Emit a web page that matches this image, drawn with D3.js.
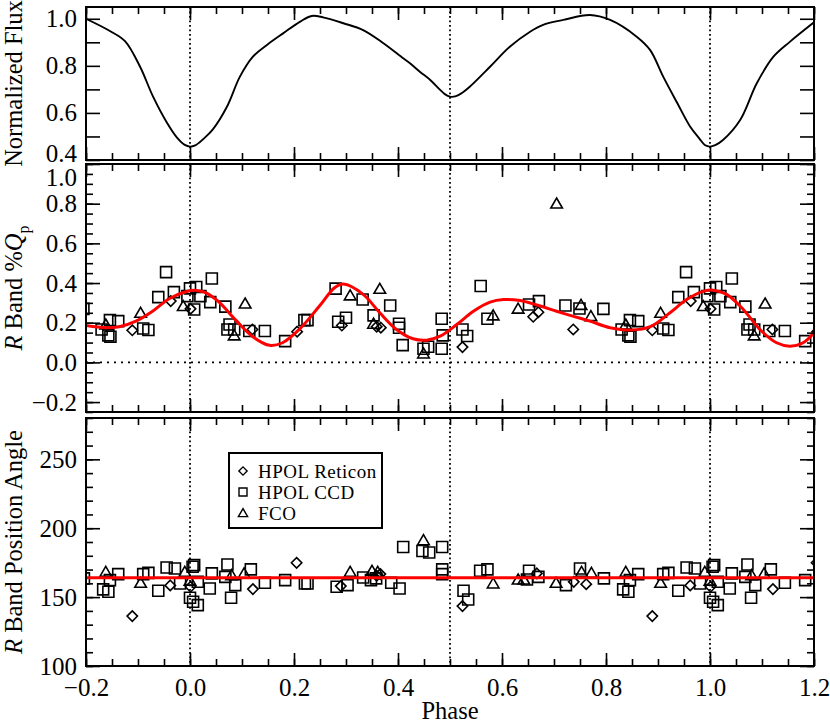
<!DOCTYPE html>
<html>
<head>
<meta charset="utf-8">
<script src="https://cdn.jsdelivr.net/npm/d3@7"></script>
<style>
  body { margin: 0; background: #fff; }
  svg text { font-family: "Liberation Serif", "Times New Roman", serif; fill: #000; }
</style>
</head>
<body>
<svg id="chart"></svg>
<script>
// ---- data ----
const phaseRange = [-0.2, 1.2];

// light curve (top panel)
const fluxPhase = [-0.2, -0.154, -0.125, -0.096, -0.071, -0.044, -0.025, -0.010, 0.0, 0.010, 0.025, 0.044, 0.071, 0.096,
  0.121, 0.148, 0.179, 0.212, 0.234, 0.256, 0.295, 0.333, 0.372, 0.410, 0.423, 0.442, 0.462, 0.481, 0.490, 0.5, 0.510,
  0.525, 0.538, 0.577, 0.615, 0.654, 0.679, 0.718, 0.769, 0.808, 0.859, 0.885, 0.910, 0.937, 0.962, 0.980, 0.990, 1.0,
  1.010, 1.025, 1.058, 1.090, 1.122, 1.154, 1.2];
const fluxValue = [1.0, 0.948, 0.905, 0.796, 0.669, 0.557, 0.495, 0.464, 0.457, 0.462, 0.488, 0.530, 0.626, 0.754,
  0.839, 0.889, 0.938, 0.988, 1.012, 1.006, 0.981, 0.952, 0.896, 0.832, 0.811, 0.775, 0.740, 0.698, 0.680, 0.669, 0.670,
  0.688, 0.711, 0.796, 0.881, 0.945, 0.974, 0.995, 1.016, 0.995, 0.924, 0.867, 0.754, 0.642, 0.541, 0.490, 0.464, 0.457,
  0.463, 0.485, 0.570, 0.726, 0.839, 0.903, 0.985];

// fit to %Qp (middle panel, red)
const qFitPhase = [-0.2, -0.162, -0.136, -0.104, -0.072, -0.040, -0.008, 0.012, 0.031, 0.056, 0.088, 0.121, 0.153, 0.178,
  0.210, 0.249, 0.278, 0.295, 0.333, 0.365, 0.397, 0.429, 0.455, 0.481, 0.513, 0.545, 0.577, 0.603, 0.635, 0.667, 0.705,
  0.731, 0.769, 0.808, 0.849, 0.885, 0.923, 0.955, 0.987, 1.006, 1.032, 1.064, 1.096, 1.128, 1.154, 1.179, 1.2];
const qFitValue = [0.186, 0.175, 0.18, 0.208, 0.258, 0.321, 0.356, 0.363, 0.351, 0.304, 0.213, 0.129, 0.086, 0.099,
  0.166, 0.284, 0.376, 0.395, 0.343, 0.250, 0.166, 0.119, 0.112, 0.132, 0.191, 0.258, 0.304, 0.317, 0.312, 0.289, 0.258,
  0.237, 0.208, 0.175, 0.163, 0.180, 0.250, 0.317, 0.358, 0.364, 0.343, 0.267, 0.166, 0.099, 0.082, 0.099, 0.150];

// %Qp observations, [phase, value], phase in 0..1
const qReticon = [[0.001, 0.270], [0.120, 0.166], [0.206, 0.155], [0.292, 0.186], [0.359, 0.180], [0.367, 0.175],
  [0.524, 0.077], [0.660, 0.230], [0.670, 0.253], [0.737, 0.166], [0.889, 0.162], [0.963, 0.309]];
const qCCD = [[0.000, 0.373], [0.012, 0.380], [0.020, 0.334], [0.008, 0.267], [0.995, 0.334], [0.039, 0.304],
  [0.042, 0.423], [0.068, 0.281], [0.076, 0.191], [0.072, 0.166], [0.085, 0.166], [0.114, 0.158], [0.144, 0.158],
  [0.183, 0.107], [0.220, 0.213], [0.226, 0.213], [0.280, 0.372], [0.285, 0.205], [0.300, 0.225], [0.332, 0.317],
  [0.353, 0.237], [0.385, 0.287], [0.402, 0.195], [0.402, 0.175], [0.409, 0.087], [0.449, 0.069], [0.458, 0.079],
  [0.484, 0.220], [0.486, 0.136], [0.484, 0.069], [0.524, 0.166], [0.533, 0.133], [0.559, 0.385], [0.572, 0.220],
  [0.652, 0.292], [0.671, 0.309], [0.722, 0.287], [0.749, 0.272], [0.795, 0.270], [0.830, 0.166], [0.846, 0.213],
  [0.862, 0.208], [0.843, 0.136], [0.847, 0.129], [0.910, 0.171], [0.920, 0.163], [0.939, 0.329], [0.954, 0.455],
  [0.969, 0.354]];
const qFCO = [[0.987, 0.284], [0.085, 0.136], [0.106, 0.297], [0.308, 0.338], [0.353, 0.195], [0.365, 0.371],
  [0.449, 0.045], [0.583, 0.237], [0.631, 0.271], [0.705, 0.801], [0.752, 0.290], [0.771, 0.233], [0.838, 0.191],
  [0.905, 0.250]];

// position angle observations
const paReticon = [[0.001, 157.5], [0.121, 155.8], [0.205, 174.9], [0.290, 158.0], [0.359, 165.5], [0.366, 166.7],
  [0.524, 143.5], [0.667, 167.2], [0.738, 161.1], [0.762, 159.4], [0.889, 136.2], [0.962, 158.5]];
const paCCD = [[0.008, 173.2], [0.005, 172.0], [0.015, 161.1], [0.000, 149.5], [0.006, 146.6], [0.015, 144.2],
  [0.038, 156.3], [0.042, 167.2], [0.068, 164.7], [0.072, 173.7], [0.079, 149.5], [0.087, 158.7], [0.117, 170.1],
  [0.144, 160.4], [0.183, 162.3], [0.221, 159.9], [0.226, 159.9], [0.282, 157.5], [0.303, 158.7], [0.333, 164.2],
  [0.348, 162.3], [0.358, 163.6], [0.387, 160.4], [0.403, 156.3], [0.410, 186.4], [0.447, 183.5], [0.460, 182.4],
  [0.485, 186.4], [0.485, 170.1], [0.485, 166.7], [0.526, 154.6], [0.535, 148.3], [0.558, 169.1], [0.572, 170.1],
  [0.648, 162.8], [0.652, 169.1], [0.670, 164.7], [0.723, 158.7], [0.750, 170.8], [0.796, 163.6], [0.833, 155.6],
  [0.843, 153.9], [0.846, 162.3], [0.862, 166.7], [0.910, 166.7], [0.920, 167.6], [0.939, 154.6], [0.955, 171.5],
  [0.971, 170.8], [0.981, 159.9]];
const paFCO = [[0.990, 168.3], [0.000, 162.0], [0.080, 165.9], [0.104, 167.2], [0.308, 168.3], [0.350, 169.1],
  [0.361, 168.3], [0.449, 191.3], [0.583, 159.9], [0.631, 162.8], [0.642, 162.8], [0.704, 160.4], [0.753, 168.3],
  [0.772, 167.6], [0.838, 168.3], [0.905, 160.4]];
const paFit = 164;

const legendLabels = ['HPOL Reticon', 'HPOL CCD', 'FCO'];
const xMajorTicks = [-0.2, 0.0, 0.2, 0.4, 0.6, 0.8, 1.0, 1.2];
const refPhases = [0.0, 0.5, 1.0];

// ---- layout ----
const W = 830, H = 725;
const left = 86, right = 814;
const tickFont = 25, titleFont = 24.5;
const svg = d3.select('#chart').attr('width', W).attr('height', H);

const x = d3.scaleLinear().domain(phaseRange).range([left, right]);
const xMinorTicks = d3.range(-20, 121, 5).map(d => d / 100);

// repeat each folded point one cycle back and forward when it lands in the plotted range
function unfold(points) {
    return points.flatMap(p => [-1, 0, 1].map(k => [p[0] + k, p[1]]))
        .filter(p => p[0] >= phaseRange[0] - 0.02 && p[0] <= phaseRange[1] + 0.02);
}

const diamondType = {
    draw(ctx, size) {
        const r = Math.sqrt(size / 2);
        ctx.moveTo(0, -r); ctx.lineTo(r, 0); ctx.lineTo(0, r); ctx.lineTo(-r, 0); ctx.closePath();
    }
};
const triangleType = {
    draw(ctx, size) {
        const h = Math.sqrt(size);
        ctx.moveTo(0, -h * 0.55); ctx.lineTo(h * 0.58, h * 0.45); ctx.lineTo(-h * 0.58, h * 0.45); ctx.closePath();
    }
};
const symbolFor = {
    reticon: d3.symbol().type(diamondType).size(54),
    ccd: d3.symbol().type(d3.symbolSquare).size(121),
    fco: d3.symbol().type(triangleType).size(100)
};

function drawPanel(cfg, idx) {
    const y = d3.scaleLinear().domain(cfg.domain).range([cfg.bottom, cfg.top]);
    const g = svg.append('g');

    svg.append('clipPath').attr('id', 'clip' + idx)
        .append('rect').attr('x', left).attr('y', cfg.top).attr('width', right - left).attr('height', cfg.bottom - cfg.top);

    // dotted reference lines
    g.selectAll('.vref').data(refPhases).join('line')
        .attr('x1', d => x(d)).attr('x2', d => x(d))
        .attr('y1', cfg.top).attr('y2', cfg.bottom)
        .attr('stroke', '#000').attr('stroke-width', 1.8).attr('stroke-dasharray', '1.8,2.7');
    if (cfg.zeroLine) {
        g.append('line')
            .attr('x1', left).attr('x2', right).attr('y1', y(0)).attr('y2', y(0))
            .attr('stroke', '#000').attr('stroke-width', 1.8).attr('stroke-dasharray', '2,5');
    }

    const plot = g.append('g').attr('clip-path', `url(#clip${idx})`);
    cfg.draw(plot, y);

    // x ticks, top and bottom, pointing inward
    const xAxisSets = [[xMajorTicks, 13], [xMinorTicks, 7]];
    xAxisSets.forEach(([vals, len]) => {
        g.append('g').attr('transform', `translate(0,${cfg.top})`)
            .call(d3.axisTop(x).tickValues(vals).tickSize(-len).tickFormat(''))
            .call(a => a.select('.domain').remove());
        const bottom = g.append('g').attr('transform', `translate(0,${cfg.bottom})`)
            .call(d3.axisBottom(x).tickValues(vals).tickSize(-len).tickPadding(12)
                .tickFormat(cfg.xLabels && len === 13 ? d3.format('.1f') : ''))
            .call(a => a.select('.domain').remove());
        bottom.selectAll('text').attr('font-size', tickFont);
    });

    // y ticks, left and right
    cfg.yTicks.forEach(([vals, len, labelled]) => {
        const la = g.append('g').attr('transform', `translate(${left},0)`)
            .call(d3.axisLeft(y).tickValues(vals).tickSize(-len).tickPadding(9)
                .tickFormat(labelled ? cfg.yFormat : ''))
            .call(a => a.select('.domain').remove());
        la.selectAll('text').attr('font-size', tickFont)
            .filter(d => labelled && labelled.indexOf(d) === -1).remove();
        la.selectAll('text').attr('y', d => (cfg.labelShift && cfg.labelShift[d]) || 0);
        g.append('g').attr('transform', `translate(${right},0)`)
            .call(d3.axisRight(y).tickValues(vals).tickSize(-len).tickFormat(''))
            .call(a => a.select('.domain').remove());
    });
    g.selectAll('.tick line').attr('stroke', '#000').attr('stroke-width', 1.6);

    // frame
    g.append('rect')
        .attr('x', left).attr('y', cfg.top)
        .attr('width', right - left).attr('height', cfg.bottom - cfg.top)
        .attr('fill', 'none').attr('stroke', '#000').attr('stroke-width', 2);

    // y title
    const title = svg.append('text')
        .attr('transform', `translate(22,${(cfg.top + cfg.bottom) / 2}) rotate(-90)`)
        .attr('text-anchor', 'middle').attr('font-size', titleFont);
    cfg.title(title);
    return y;
}

function drawPoints(plot, y, series) {
    series.forEach(([pts, kind]) => {
        plot.append('g').selectAll('path').data(unfold(pts)).join('path')
            .attr('transform', d => `translate(${x(d[0])},${y(d[1])})`)
            .attr('d', symbolFor[kind]())
            .attr('fill', 'none').attr('stroke', '#000').attr('stroke-width', 1.6);
    });
}

// top: normalized flux
drawPanel({
    top: 7, bottom: 160, domain: [0.4, 1.05],
    yTicks: [[[0.4, 0.5, 0.6, 0.7, 0.8, 0.9, 1.0], 14, [0.4, 0.6, 0.8, 1.0]]],
    yFormat: d3.format('.1f'),
    labelShift: {0.4: -7},
    draw(plot, y) {
        const line = d3.line().x((d, i) => x(fluxPhase[i])).y(d => y(d)).curve(d3.curveCatmullRom);
        plot.append('path').attr('d', line(fluxValue))
            .attr('fill', 'none').attr('stroke', '#000').attr('stroke-width', 1.9);
    },
    title(t) { t.text('Normalized Flux'); }
}, 0);

// middle: R band %Qp
drawPanel({
    top: 164, bottom: 412, domain: [-0.25, 1.0], zeroLine: true,
    yTicks: [[d3.range(-5, 21).map(d => d * 0.05), 7, null],
             [[-0.2, 0.0, 0.2, 0.4, 0.6, 0.8, 1.0], 14, [-0.2, 0.0, 0.2, 0.4, 0.6, 0.8, 1.0]]],
    yFormat: d3.format('.1f'),
    labelShift: {1: 13},
    draw(plot, y) {
        drawPoints(plot, y, [[qReticon, 'reticon'], [qCCD, 'ccd'], [qFCO, 'fco']]);
        const line = d3.line().x((d, i) => x(qFitPhase[i])).y(d => y(d)).curve(d3.curveCatmullRom);
        plot.append('path').attr('d', line(qFitValue))
            .attr('fill', 'none').attr('stroke', '#ff0000').attr('stroke-width', 3);
    },
    title(t) {
        t.append('tspan').attr('font-style', 'italic').text('R');
        t.append('tspan').text(' Band %');
        t.append('tspan').attr('font-style', 'italic').text('Q');
        t.append('tspan').attr('font-size', 16).attr('dy', '0.45em').text('p');
    }
}, 1);

// bottom: position angle
drawPanel({
    top: 418, bottom: 666, domain: [100, 280], xLabels: true,
    yTicks: [[d3.range(100, 281, 10), 7, null], [[100, 150, 200, 250], 14, [100, 150, 200, 250]]],
    yFormat: d3.format('d'),
    draw(plot, y) {
        drawPoints(plot, y, [[paReticon, 'reticon'], [paCCD, 'ccd'], [paFCO, 'fco']]);
        plot.append('line')
            .attr('x1', x(phaseRange[0])).attr('x2', x(phaseRange[1]))
            .attr('y1', y(paFit)).attr('y2', y(paFit))
            .attr('stroke', '#ff0000').attr('stroke-width', 3);
    },
    title(t) {
        t.append('tspan').attr('font-style', 'italic').text('R');
        t.append('tspan').text(' Band Position Angle');
    }
}, 2);

svg.append('text')
    .attr('x', x(0.5)).attr('y', 719)
    .attr('text-anchor', 'middle').attr('font-size', titleFont)
    .text('Phase');

// legend
const legend = svg.append('g').attr('transform', 'translate(229,453)');
legend.append('rect').attr('width', 153).attr('height', 75)
    .attr('fill', '#fff').attr('stroke', '#000').attr('stroke-width', 2);
const legendSym = [
    d3.symbol().type(diamondType).size(34),
    d3.symbol().type(d3.symbolSquare).size(64),
    d3.symbol().type(triangleType).size(64)
];
const rows = legend.selectAll('.row').data(legendLabels).join('g')
    .attr('transform', (d, i) => `translate(0,${18 + i * 21})`);
rows.append('path')
    .attr('transform', 'translate(14,0)')
    .attr('d', (d, i) => legendSym[i]())
    .attr('fill', 'none').attr('stroke', '#000').attr('stroke-width', 1.4);
rows.append('text')
    .attr('x', 29).attr('dy', '0.35em').attr('font-size', 19)
    .attr('letter-spacing', 0.5)
    .text(d => d);
</script>
</body>
</html>
